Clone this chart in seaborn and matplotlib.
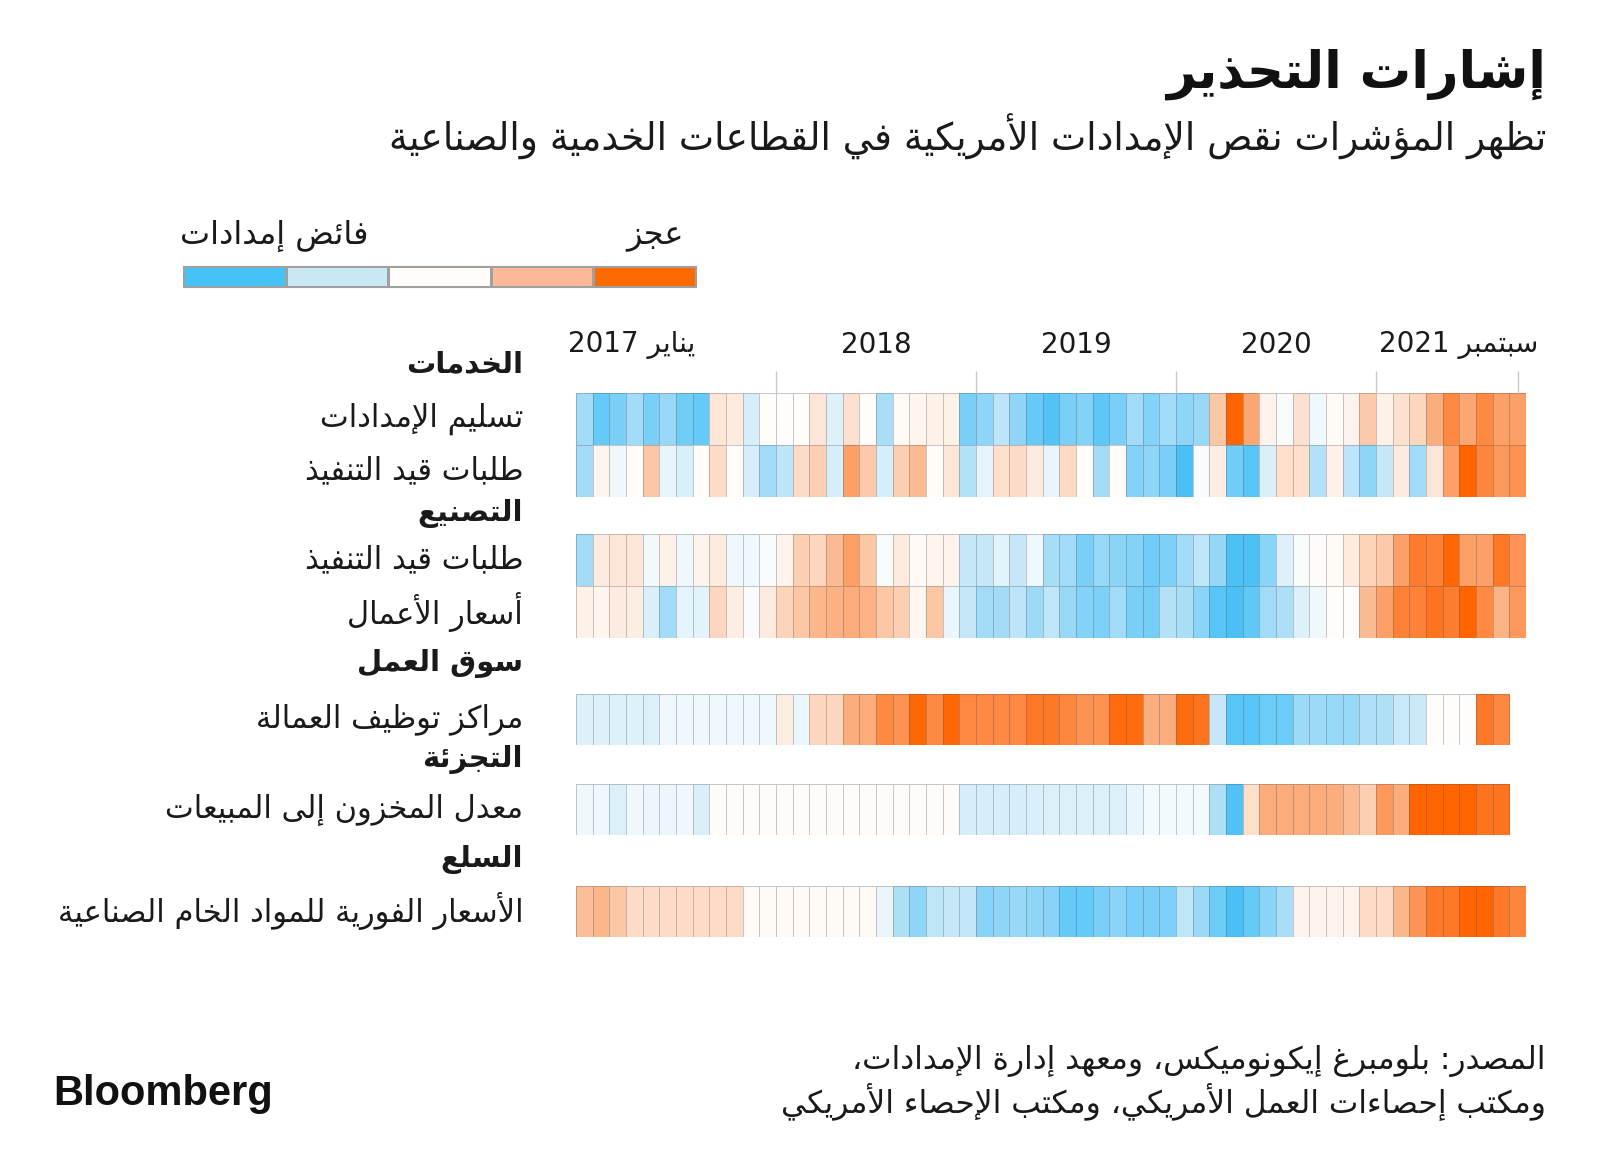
import re
import numpy as np
import pandas as pd
import matplotlib
matplotlib.use("Agg")
import matplotlib.pyplot as plt
import seaborn as sns
from matplotlib.colors import LinearSegmentedColormap, ListedColormap

sns.set_style("white")
plt.rcParams["font.family"] = ["DejaVu Sans"]

# monthly cells, Jan 2017 .. Sep 2021; negative = surplus (blue), positive = shortage (orange)
months = pd.date_range("2017-01-01", "2021-09-01", freq="MS")

services_deliveries = [-0.5, -0.8, -0.7, -0.5, -0.7, -0.55, -0.75, -0.8, 0.15, 0.12, -0.2, 0, 0, 0, 0.15,
                       -0.15, 0.18, 0, -0.45, 0.03, 0.05, 0.08, 0.08, -0.7, -0.6, -0.35, -0.6, -0.8, -0.9,
                       -0.7, -0.65, -0.85, -0.7, -0.5, -0.65, -0.5, -0.6, -0.55, 0.35, 1.0, 0.55, 0.07,
                       -0.03, 0.18, -0.07, 0.02, 0.07, 0.33, 0.08, 0.18, 0.25, 0.5, 0.75, 0.55, 0.75, 0.6, 0.6]
services_backlog = [-0.5, 0.05, -0.07, 0, 0.35, -0.1, -0.18, 0, 0.22, 0, -0.2, -0.5, -0.35, 0.22, 0.3,
                    -0.2, 0.6, 0.33, -0.2, 0.3, 0.42, 0, 0.15, -0.4, -0.12, 0.2, 0.22, 0.12, -0.1, 0.23,
                    0, -0.5, 0, -0.65, -0.6, -0.7, -0.95, -0.03, 0.1, -0.75, -0.88, -0.18, 0.2, 0.2, -0.4,
                    0.08, -0.35, -0.6, -0.3, 0.12, -0.5, 0.15, 0.6, 1.0, 0.78, 0.65, 0.7]
mfg_backlog = [-0.5, 0.12, 0.15, 0.15, -0.05, 0.08, -0.07, 0.06, 0.12, -0.07, -0.07, -0.03, 0.07, 0.3,
               0.25, 0.42, 0.6, 0.35, -0.03, 0.12, 0.02, 0.05, 0.07, -0.3, -0.3, -0.13, -0.3, -0.07,
               -0.47, -0.5, -0.7, -0.55, -0.62, -0.65, -0.75, -0.68, -0.5, -0.33, -0.57, -0.93, -0.93,
               -0.62, -0.15, -0.03, 0, 0.02, 0.12, 0.27, 0.33, 0.6, 0.85, 0.82, 0.98, 0.6, 0.6, 0.88, 0.68]
mfg_prices = [0.08, 0.05, 0.12, 0.1, -0.18, -0.5, -0.12, -0.14, 0.25, 0.1, -0.02, 0.12, 0.27, 0.35, 0.45,
              0.48, 0.52, 0.47, 0.35, 0.3, 0.04, 0.35, -0.09, -0.3, -0.5, -0.48, -0.35, -0.52, -0.33,
              -0.55, -0.65, -0.68, -0.5, -0.7, -0.73, -0.4, -0.45, -0.62, -0.88, -0.95, -0.83, -0.5,
              -0.43, -0.15, -0.07, 0, 0, 0.42, 0.6, 0.8, 0.8, 0.9, 0.83, 1.0, 0.75, 0.47, 0.65]
staffing = [-0.15, -0.15, -0.16, -0.16, -0.17, -0.07, -0.07, -0.07, -0.07, -0.07, -0.07, -0.07, 0.1,
            -0.08, 0.25, 0.25, 0.52, 0.52, 0.75, 0.7, 0.98, 0.75, 0.98, 0.75, 0.75, 0.75, 0.75, 0.87,
            0.86, 0.77, 0.7, 0.7, 0.95, 0.95, 0.5, 0.5, 0.95, 0.9, -0.3, -0.88, -0.88, -0.77, -0.77,
            -0.52, -0.52, -0.55, -0.55, -0.42, -0.42, -0.28, -0.28, 0, 0, 0, 0.87, 0.76]
inventory_sales = [-0.07, -0.07, -0.17, -0.07, -0.08, -0.08, -0.07, -0.18, 0.01, 0.01, 0.01, 0.01, 0.01,
                   0.01, 0.01, 0.01, 0.01, 0.01, 0.01, 0.01, 0.01, 0.01, 0.01, -0.2, -0.2, -0.2, -0.2,
                   -0.18, -0.17, -0.17, -0.17, -0.17, -0.17, -0.1, -0.04, -0.04, -0.04, -0.04, -0.43,
                   -0.92, 0.2, 0.52, 0.52, 0.52, 0.52, 0.5, 0.42, 0.3, 0.65, 0.5, 1.0, 1.0, 1.0, 1.0, 0.9, 0.9]
spot_prices = [0.4, 0.45, 0.35, 0.22, 0.22, 0.22, 0.22, 0.22, 0.22, 0.22, 0.02, 0.02, 0.02, 0.02, 0.02,
               0.02, 0.02, 0.02, -0.09, -0.43, -0.6, -0.33, -0.3, -0.31, -0.63, -0.6, -0.55, -0.6, -0.63,
               -0.8, -0.8, -0.7, -0.62, -0.7, -0.7, -0.68, -0.33, -0.53, -0.77, -0.95, -0.8, -0.62, -0.45,
               0.07, 0.07, 0.07, 0.07, 0.22, 0.22, 0.45, 0.68, 0.86, 0.86, 1.0, 1.0, 0.86, 0.78]

title = "إشارات التحذير"
subtitle = "تظهر المؤشرات نقص الإمدادات الأمريكية في القطاعات الخدمية والصناعية"
legend_labels = ["فائض إمدادات", "عجز"]
legend_colors = ["#45c3f9", "#c8e9f4", "#fffcfa", "#fdb89a", "#fd6a00"]
group_names = ["الخدمات", "التصنيع", "سوق العمل", "التجزئة", "السلع"]
row_names = [["تسليم الإمدادات", "طلبات قيد التنفيذ"],
             ["طلبات قيد التنفيذ", "أسعار الأعمال"],
             ["مراكز توظيف العمالة"],
             ["معدل المخزون إلى المبيعات"],
             ["الأسعار الفورية للمواد الخام الصناعية"]]
row_values = [[services_deliveries, services_backlog],
              [mfg_backlog, mfg_prices],
              [staffing],
              [inventory_sales],
              [spot_prices]]
first_month_word = "يناير"
last_month_word = "سبتمبر"
source_lines = ["المصدر: بلومبرغ إيكونوميكس، ومعهد إدارة الإمدادات،",
                "ومكتب إحصاءات العمل الأمريكي، ومكتب الإحصاء الأمريكي"]

# --- minimal Arabic shaping (matplotlib has no bidi / joining support) ---
FORMS = {
    'ء': (0xFE80, False), 'آ': (0xFE81, False), 'أ': (0xFE83, False), 'ؤ': (0xFE85, False),
    'إ': (0xFE87, False), 'ئ': (0xFE89, True), 'ا': (0xFE8D, False), 'ب': (0xFE8F, True),
    'ة': (0xFE93, False), 'ت': (0xFE95, True), 'ث': (0xFE99, True), 'ج': (0xFE9D, True),
    'ح': (0xFEA1, True), 'خ': (0xFEA5, True), 'د': (0xFEA9, False), 'ذ': (0xFEAB, False),
    'ر': (0xFEAD, False), 'ز': (0xFEAF, False), 'س': (0xFEB1, True), 'ش': (0xFEB5, True),
    'ص': (0xFEB9, True), 'ض': (0xFEBD, True), 'ط': (0xFEC1, True), 'ظ': (0xFEC5, True),
    'ع': (0xFEC9, True), 'غ': (0xFECD, True), 'ف': (0xFED1, True), 'ق': (0xFED5, True),
    'ك': (0xFED9, True), 'ل': (0xFEDD, True), 'م': (0xFEE1, True), 'ن': (0xFEE5, True),
    'ه': (0xFEE9, True), 'و': (0xFEED, False), 'ى': (0xFEEF, False), 'ي': (0xFEF1, True),
    'لآ': (0xFEF5, False), 'لأ': (0xFEF7, False), 'لإ': (0xFEF9, False), 'لا': (0xFEFB, False),
}


def ar(text):
    chars = []
    i = 0
    while i < len(text):
        if text[i:i + 2] in FORMS and len(text[i:i + 2]) == 2:
            chars.append(text[i:i + 2])
            i += 2
        else:
            chars.append(text[i])
            i += 1
    out = []
    for k, c in enumerate(chars):
        if c not in FORMS:
            out.append(c)
            continue
        base, dual = FORMS[c]
        if c == 'ء':
            out.append(chr(base))
            continue
        prev = chars[k - 1] if k > 0 else None
        nxt = chars[k + 1] if k + 1 < len(chars) else None
        jp = prev in FORMS and FORMS[prev][1]
        jn = dual and nxt in FORMS and nxt != 'ء'
        off = 3 if (jp and jn) else 2 if jn else 1 if jp else 0
        out.append(chr(base + off))
    runs = re.findall(r"[0-9A-Za-z]+|.", "".join(out))
    return "".join(reversed(runs))


# continuous diverging scale, blue -> white -> orange
scale = [(-1.0, "#42bdf5"), (-0.8, "#66caf8"), (-0.6, "#8ed5f7"), (-0.4, "#b4e1f7"),
         (-0.2, "#d6eefa"), (-0.05, "#f1f9fd"), (0.0, "#fffdfb"), (0.1, "#fdeee4"),
         (0.25, "#fdd7c0"), (0.45, "#fbb68a"), (0.6, "#fca068"), (0.75, "#fd8a45"),
         (0.9, "#fd7420"), (1.0, "#ff6400")]
cmap = LinearSegmentedColormap.from_list("supply", [((v + 1) / 2, c) for v, c in scale])

W, H = 1600, 1171
fig = plt.figure(figsize=(W / 100, H / 100), dpi=100)
fig.patch.set_facecolor("white")
ink = "#1a1a1a"
edge = (0.3, 0.3, 0.3, 0.3)

# block layout in pixels: (top, bottom) of each group of rows; header centre
x0, x1 = 576, 1526
blocks = [(393, 497), (534, 638), (694, 745), (784, 835), (886, 937)]
header_y = [364, 513, 663, 760, 860]

axes = []
for (top, bot), names, vals, gname, hy in zip(blocks, row_names, row_values, group_names, header_y):
    ax = fig.add_axes([x0 / W, 1 - bot / H, (x1 - x0) / W, (bot - top) / H])
    n = max(len(v) for v in vals)
    df = pd.DataFrame([pd.Series(v, index=months[:len(v)]).reindex(months[:n]).values for v in vals],
                      index=[ar(nm) for nm in names], columns=months[:n])
    sns.heatmap(df, ax=ax, cmap=cmap, vmin=-1, vmax=1, cbar=False, linewidths=0.7,
                linecolor=edge, xticklabels=False, yticklabels=True)
    ax.set_xlim(0, len(months))
    ax.tick_params(axis="y", length=0, pad=38, labelsize=22, labelcolor=ink)
    plt.setp(ax.get_yticklabels(), rotation=0, ha="right")
    ax.set_xlabel("")
    ax.set_ylabel("")
    fig.text(523 / W, 1 - hy / H, ar(gname), ha="right", va="center", fontsize=21,
             fontweight="bold", color=ink)
    axes.append(ax)

# year ticks and labels above the first block
ax = axes[0]
year_starts = [i for i, m in enumerate(months) if m.month == 1 and i > 0]
ax.vlines(year_starts + [len(months) - 0.5], -0.42, 0, color="#c8c8c8", lw=1, clip_on=False)
years = sorted(set(months.year))
for yr in years:
    idx = [i for i, m in enumerate(months) if m.year == yr]
    if yr == years[0]:
        ax.text(idx[0] - 0.5, -0.92, ar(first_month_word + " " + str(yr)), ha="left", va="center",
                fontsize=20, color=ink, clip_on=False)
    elif yr == years[-1]:
        ax.text(idx[0] + 0.2, -0.92, ar(last_month_word + " " + str(yr)), ha="left", va="center",
                fontsize=20, color=ink, clip_on=False)
    else:
        ax.text(np.mean(idx) + 0.5, -0.92, str(yr), ha="center", va="center",
                fontsize=20, color=ink, clip_on=False)

# legend strip
lax = fig.add_axes([183 / W, 1 - 287 / H, (696 - 183) / W, 21 / H])
sns.heatmap([list(range(len(legend_colors)))], ax=lax, cmap=ListedColormap(legend_colors),
            cbar=False, linewidths=1, linecolor="#a0a0a0", xticklabels=False, yticklabels=False)
for s in lax.spines.values():
    s.set_visible(True)
    s.set_color("#a0a0a0")
fig.text(369 / W, 1 - 236 / H, ar(legend_labels[0]), ha="right", va="center", fontsize=23, color=ink)
fig.text(684 / W, 1 - 236 / H, ar(legend_labels[1]), ha="right", va="center", fontsize=23, color=ink)

# titles
fig.text(1546 / W, 1 - 74 / H, ar(title), ha="right", va="center", fontsize=37,
         fontweight="bold", color="#111111")
fig.text(1546 / W, 1 - 137 / H, ar(subtitle), ha="right", va="center", fontsize=27, color=ink)

# source and logo
fig.text(1546 / W, 1 - 1061 / H, ar(source_lines[0]), ha="right", va="center", fontsize=22.5, color=ink)
fig.text(1546 / W, 1 - 1101 / H, ar(source_lines[1]), ha="right", va="center", fontsize=22.5, color=ink)
fig.text(53 / W, 1 - 1094 / H, "Bloomberg", ha="left", va="center", fontsize=30,
         fontweight="bold", family="Liberation Sans", color="#111111")

fig.savefig("out.png", dpi=100, facecolor="white")
